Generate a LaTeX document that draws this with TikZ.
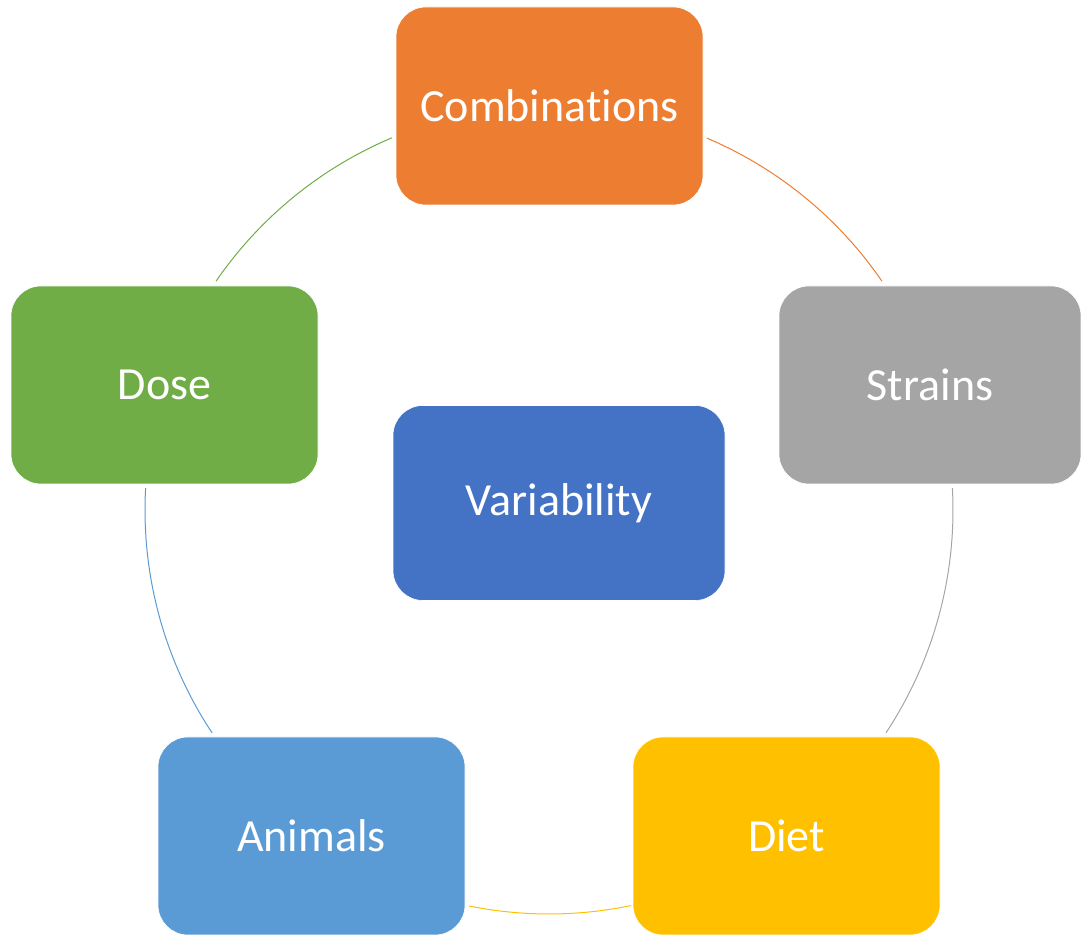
\documentclass[tikz,border=0pt]{standalone}
\usepackage{fontspec}
\setmainfont[Ligatures={NoCommon}]{Carlito}
\definecolor{corange}{HTML}{ED7D31}
\definecolor{cgray}{HTML}{A5A5A5}
\definecolor{cgold}{HTML}{FFC000}
\definecolor{cblue}{HTML}{5B9BD5}
\definecolor{cgreen}{HTML}{70AD47}
\definecolor{cdblue}{HTML}{4472C4}
\tikzset{
  box/.style={rounded corners=30pt, inner sep=0pt, minimum width=307pt, minimum height=198pt,
    text=white, font=\fontsize{46}{55}\selectfont, draw=white, line width=0.6pt},
  link/.style={line width=1pt}
}
\begin{document}
\begin{tikzpicture}[x=1pt,y=1pt]
\useasboundingbox (0,0) rectangle (1081,936);
\coordinate (c) at (549,426);
\node[box, fill=corange] (comb) at (549.5,830) {Combinations};
\node[box, fill=cgray, minimum width=302pt] (strains) at (930,551) {Strains};
\node[box, fill=cgold] (diet) at (786.5,100) {Diet};
\node[box, fill=cblue] (animals) at (311.5,100) {Animals};
\node[box, fill=cgreen] (dose) at (164.5,551) {Dose};
\node[box, fill=cdblue, minimum width=332pt, minimum height=195pt] (var) at (559,433) {Variability};
\draw[link, corange] (c) ++(67:404) arc (67:34.5:404);
\draw[link, cgray] (c) ++(3.1:404) arc (3.1:-33.5:404);
\draw[link, cgold] (c) ++(-78.3:404) arc (-78.3:-101.4:404);
\draw[link, cblue] (c) ++(-146.5:404) arc (-146.5:-183.1:404);
\draw[link, cgreen] (c) ++(145.5:404) arc (145.5:112.9:404);
\end{tikzpicture}
\end{document}
